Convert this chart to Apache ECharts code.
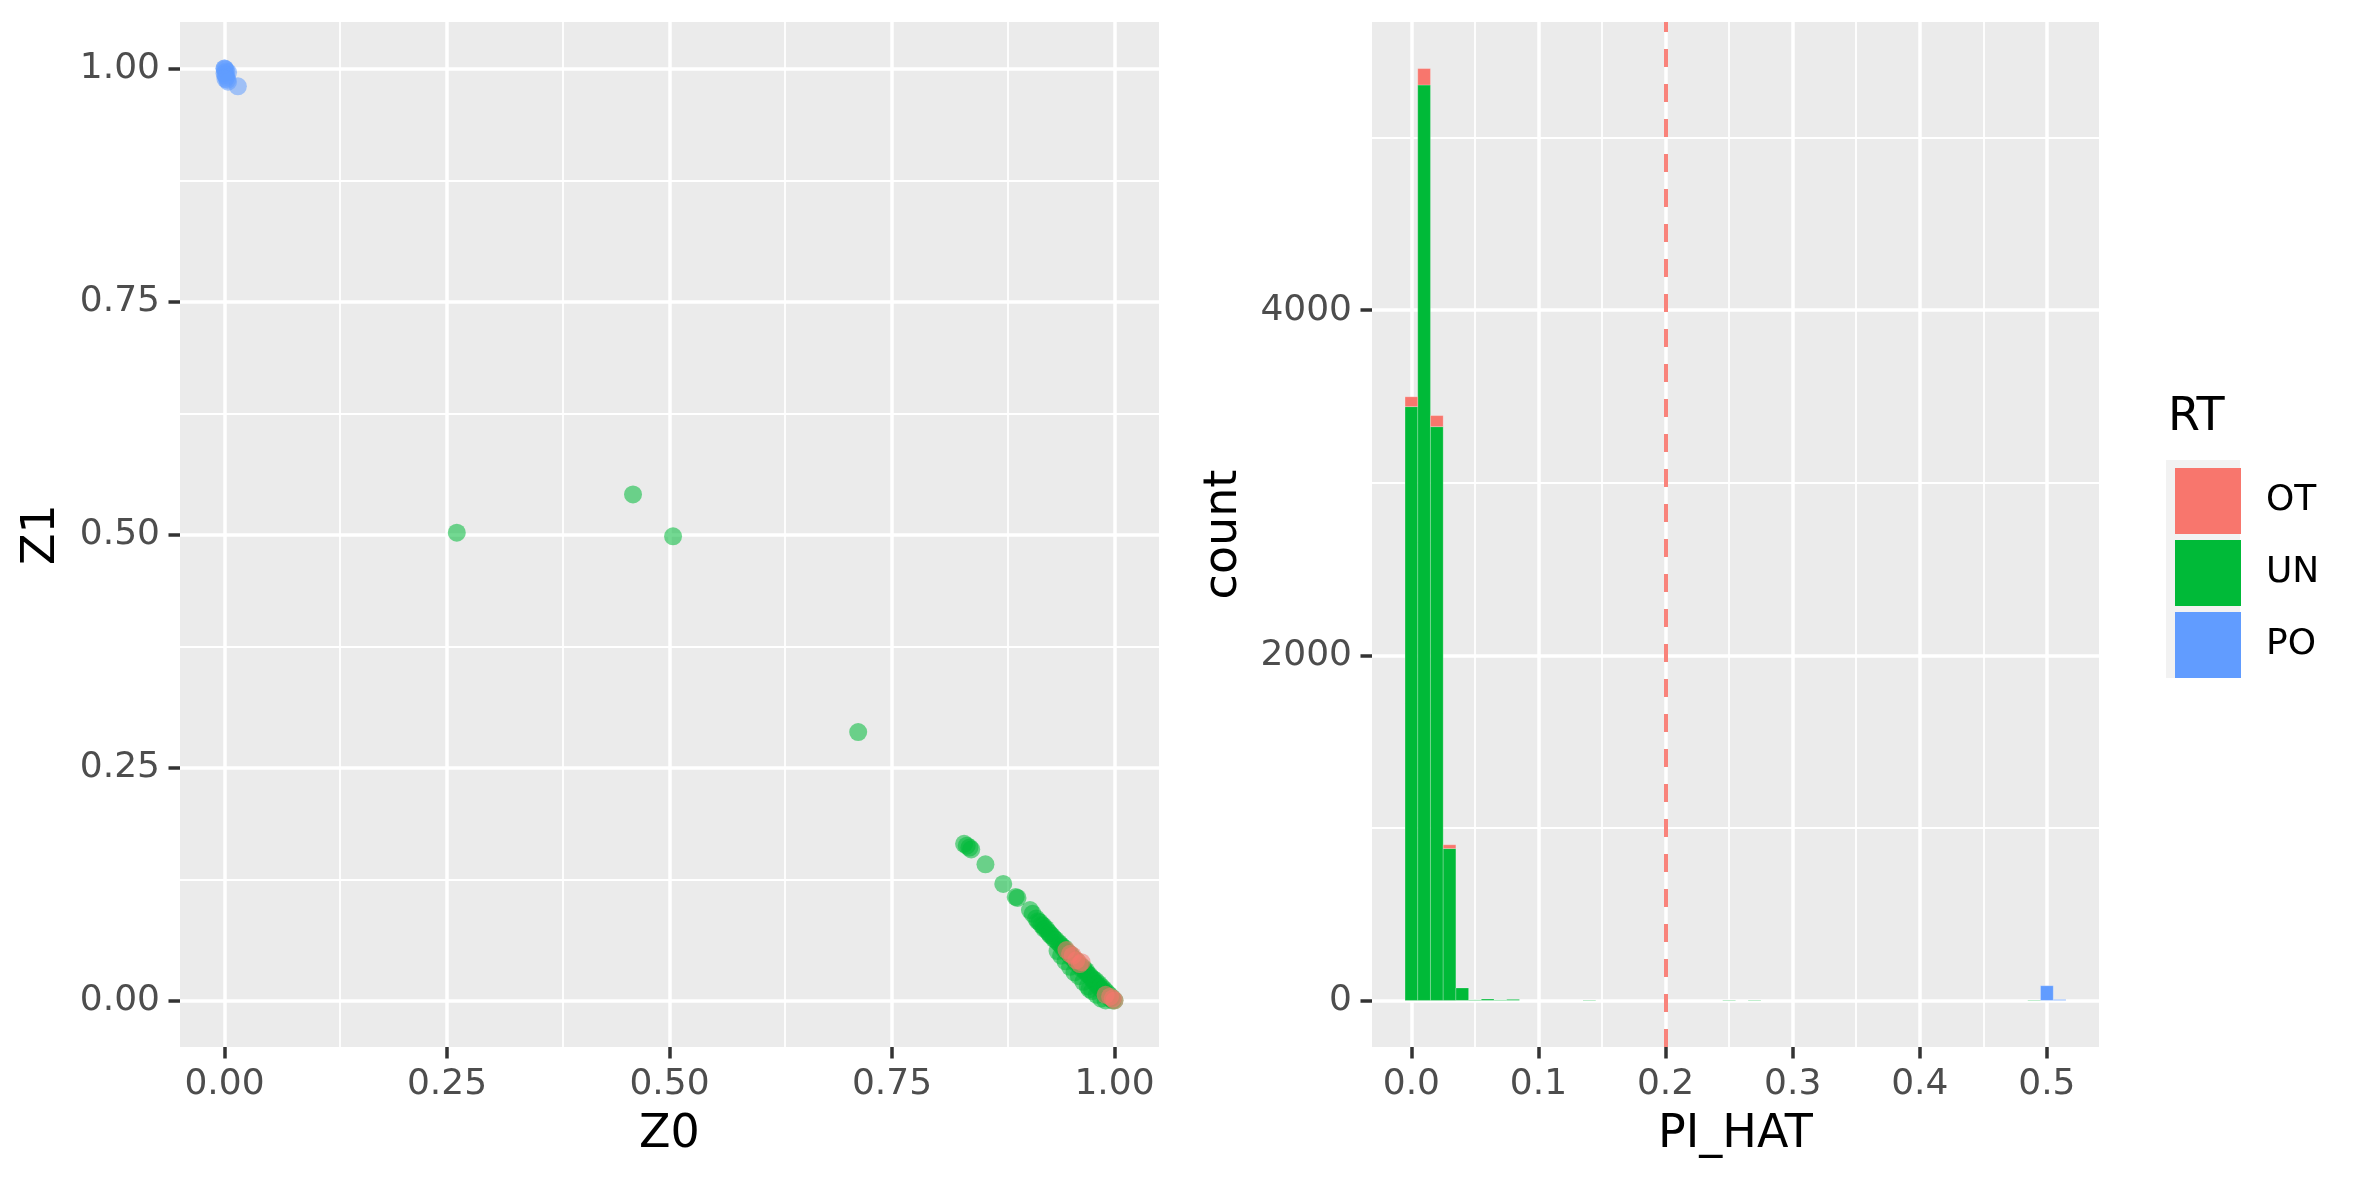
<!DOCTYPE html>
<html>
<head>
<meta charset="utf-8">
<script src="https://cdn.jsdelivr.net/npm/echarts@6/dist/echarts.min.js"></script>
<style>
  html, body { margin: 0; padding: 0; background: #fff; }
  #chart { width: 2362px; height: 1181px; }
</style>
</head>
<body>
<div id="chart"></div>
<script>
// scatter: [Z0, Z1] per relationship type
const unPoints = [
  [0.261, 0.502], [0.459, 0.543], [0.504, 0.498], [0.712, 0.288],
  [0.831, 0.168], [0.834, 0.166], [0.837, 0.164], [0.839, 0.162], [0.855, 0.146],
  [0.875, 0.125], [0.889, 0.111], [0.891, 0.110], [0.905, 0.097], [0.908, 0.093],
  [0.912, 0.088], [0.914, 0.085], [0.916, 0.084], [0.918, 0.081], [0.920, 0.080],
  [0.921, 0.077], [0.923, 0.077], [0.925, 0.074], [0.927, 0.072], [0.928, 0.070],
  [0.930, 0.069], [0.932, 0.066], [0.934, 0.065], [0.936, 0.053], [0.937, 0.062],
  [0.939, 0.060], [0.941, 0.058], [0.943, 0.055], [0.944, 0.056], [0.946, 0.052],
  [0.948, 0.051], [0.950, 0.048], [0.951, 0.049], [0.953, 0.045], [0.955, 0.044],
  [0.957, 0.040], [0.958, 0.042], [0.960, 0.038], [0.962, 0.037], [0.963, 0.034],
  [0.965, 0.035], [0.967, 0.031], [0.968, 0.032], [0.970, 0.028], [0.972, 0.027],
  [0.972, 0.012], [0.974, 0.024], [0.976, 0.023], [0.977, 0.020], [0.979, 0.021],
  [0.980, 0.017], [0.982, 0.018], [0.983, 0.014], [0.985, 0.015], [0.986, 0.011],
  [0.988, 0.012], [0.989, 0.008], [0.991, 0.009], [0.992, 0.005], [0.994, 0.006],
  [0.995, 0.002], [0.997, 0.003], [0.998, 0.000], [1.000, 0.000], [0.990, 0.000],
  [0.985, 0.002], [0.980, 0.006], [0.975, 0.010], [0.970, 0.015], [0.965, 0.020],
  [0.960, 0.026], [0.955, 0.030], [0.950, 0.036], [0.945, 0.042], [0.940, 0.048]
]
const otPoints = [
  [0.946, 0.054], [0.950, 0.050], [0.953, 0.048], [0.957, 0.043], [0.961, 0.039],
  [0.963, 0.041], [0.990, 0.006], [0.995, 0.004], [0.998, 0.002], [1.000, 0.000]
]
const poPoints = [
  [0.000, 1.000], [0.000, 1.000], [0.001, 0.999], [0.002, 0.997], [0.004, 0.996],
  [0.000, 0.995], [0.001, 0.993], [0.002, 0.991], [0.003, 0.988], [0.004, 0.986],
  [0.001, 0.989], [0.015, 0.981]
]

// histogram of PI_HAT, binwidth 0.01
const binWidth = 0.01
const binCenters = [0.00, 0.01, 0.02, 0.03, 0.04, 0.05, 0.06, 0.07, 0.08, 0.14, 0.25, 0.27, 0.49, 0.50, 0.51]
const countUN = [3441, 5305, 3325, 880, 72, 3, 8, 3, 6, 2, 2, 2, 2, 0, 0]
const countOT = [57, 95, 64, 22, 0, 0, 0, 0, 0, 0, 0, 0, 0, 0, 0]
const countPO = [0, 0, 0, 0, 0, 0, 0, 0, 0, 0, 0, 0, 0, 85, 5]
const cutoff = 0.2

// ticks
const zTicks = [0, 0.25, 0.5, 0.75, 1]
const zMinor = [0.125, 0.375, 0.625, 0.875]
const piTicks = [0, 0.1, 0.2, 0.3, 0.4, 0.5]
const piMinor = [0.05, 0.15, 0.25, 0.35, 0.45]
const countTicks = [0, 2000, 4000]
const countMinor = [1000, 3000, 5000]

const colors = { OT: '#F8766D', UN: '#00BA38', PO: '#619CFF' }
const font = 'DejaVu Sans'

// stack UN at the bottom, OT then PO on top
const stackUN = [], stackOT = [], stackPO = []
binCenters.forEach((x, i) => {
  const a = countUN[i]
  const b = a + countOT[i]
  const c = b + countPO[i]
  if (countUN[i] > 0) stackUN.push([x, 0, a])
  if (countOT[i] > 0) stackOT.push([x, a, b])
  if (countPO[i] > 0) stackPO.push([x, b, c])
})

function histSeries(name, data) {
  return {
    name: name,
    type: 'custom',
    xAxisIndex: 1,
    yAxisIndex: 1,
    z: 3,
    encode: { x: 0, y: 2 },
    data: data,
    renderItem(params, api) {
      const x = api.value(0)
      const p0 = api.coord([x - binWidth / 2, api.value(2)])
      const p1 = api.coord([x + binWidth / 2, api.value(1)])
      return {
        type: 'rect',
        shape: { x: p0[0], y: p0[1], width: p1[0] - p0[0], height: p1[1] - p0[1] },
        style: { fill: colors[name], stroke: 'rgba(255,255,255,0.22)', lineWidth: 1 }
      }
    }
  }
}

function scatterSeries(name, data) {
  return {
    name: name,
    type: 'scatter',
    xAxisIndex: 0,
    yAxisIndex: 0,
    z: 3,
    symbolSize: 18,
    itemStyle: { color: colors[name], opacity: 0.55 },
    data: data
  }
}

function gridLines(idx, xMajor, xMinor, yMajor, yMinor) {
  const major = { color: '#fff', width: 3.5, type: 'solid' }
  const minor = { color: '#fff', width: 1.8, type: 'solid' }
  const data = []
  xMinor.forEach(v => data.push({ xAxis: v, lineStyle: minor }))
  yMinor.forEach(v => data.push({ yAxis: v, lineStyle: minor }))
  xMajor.forEach(v => data.push({ xAxis: v, lineStyle: major }))
  yMajor.forEach(v => data.push({ yAxis: v, lineStyle: major }))
  return {
    type: 'scatter',
    xAxisIndex: idx,
    yAxisIndex: idx,
    z: 1,
    silent: true,
    data: [],
    markLine: {
      z: 1,
      silent: true,
      animation: false,
      symbol: ['none', 'none'],
      label: { show: false },
      emphasis: { disabled: true },
      data: data
    }
  }
}

function valueAxis(idx, min, max, ticks, fmt, name, gap) {
  return {
    type: 'value',
    gridIndex: idx,
    min: min,
    max: max,
    name: name,
    nameLocation: 'middle',
    nameGap: gap,
    nameTextStyle: { fontFamily: font, fontSize: 46, color: '#000' },
    axisLine: { show: true, onZero: false, lineStyle: { color: 'rgba(0,0,0,0)' } },
    axisTick: { show: true, length: 11.5, customValues: ticks, lineStyle: { color: '#333333', width: 3.5 } },
    axisLabel: { customValues: ticks, formatter: fmt, fontFamily: font, fontSize: 36, color: '#4D4D4D', margin: 20 },
    splitLine: { show: false },
    minorSplitLine: { show: false }
  }
}

const chart = echarts.init(document.getElementById('chart'))

chart.setOption({
  animation: false,
  backgroundColor: '#fff',
  title: {
    text: 'RT',
    left: 2163,
    top: 390,
    textStyle: { fontFamily: font, fontSize: 46, fontWeight: 'normal', color: '#000' }
  },
  legend: {
    orient: 'vertical',
    left: 2170,
    top: 463,
    itemWidth: 66,
    itemHeight: 66,
    itemGap: 6,
    selectedMode: false,
    textStyle: { fontFamily: font, fontSize: 36, color: '#000', padding: [0, 0, 0, 20] },
    data: ['OT', 'UN', 'PO'].map(n => ({ name: n, icon: 'rect', itemStyle: { color: colors[n], opacity: 1 } }))
  },
  graphic: [{
    type: 'rect',
    left: 2166,
    top: 460,
    z: 0,
    shape: { width: 74, height: 218 },
    style: { fill: '#F2F2F2' }
  }],
  grid: [
    { left: 180, top: 22, width: 979, height: 1025, show: true, backgroundColor: '#EBEBEB', borderWidth: 0 },
    { left: 1372, top: 22, width: 727, height: 1025, show: true, backgroundColor: '#EBEBEB', borderWidth: 0 }
  ],
  xAxis: [
    valueAxis(0, -0.05, 1.05, zTicks, v => v.toFixed(2), 'Z0', 65),
    valueAxis(1, -0.031, 0.541, piTicks, v => v.toFixed(1), 'PI_HAT', 65)
  ],
  yAxis: [
    valueAxis(0, -0.05, 1.05, zTicks, v => v.toFixed(2), 'Z1', 115),
    valueAxis(1, -270, 5670, countTicks, v => String(v), 'count', 125)
  ],
  series: [
    gridLines(0, zTicks, zMinor, zTicks, zMinor),
    gridLines(1, piTicks, piMinor, countTicks, countMinor),
    scatterSeries('UN', unPoints),
    scatterSeries('OT', otPoints),
    scatterSeries('PO', poPoints),
    histSeries('UN', stackUN),
    histSeries('OT', stackOT),
    histSeries('PO', stackPO),
    {
      type: 'scatter',
      xAxisIndex: 1,
      yAxisIndex: 1,
      z: 4,
      silent: true,
      data: [],
      markLine: {
        z: 4,
        silent: true,
        animation: false,
        symbol: ['none', 'none'],
        label: { show: false },
        emphasis: { disabled: true },
        lineStyle: { color: '#F8766D', width: 4, type: [18, 17], opacity: 0.9 },
        data: [{ xAxis: cutoff }]
      }
    }
  ]
})
</script>
</body>
</html>
